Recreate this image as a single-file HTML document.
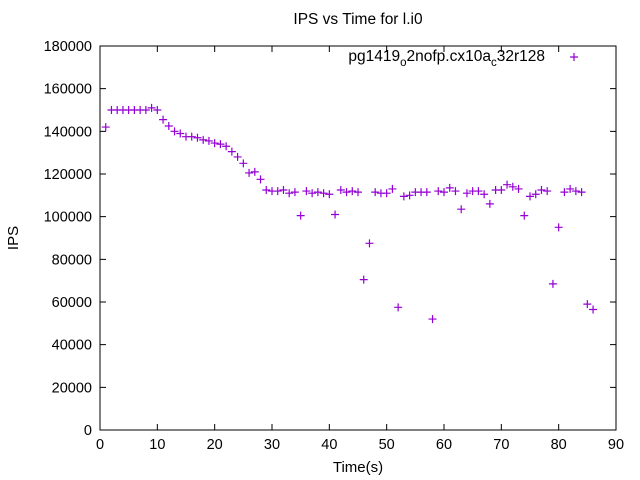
<!DOCTYPE html>
<html><head><meta charset="utf-8"><style>body{margin:0;background:#fff}svg{display:block;font-family:"Liberation Sans",sans-serif}</style></head>
<body>
<svg id="c" width="640" height="480">
<text x="358" y="24" font-size="15.5" text-anchor="middle">IPS vs Time for l.i0</text>
<text x="18" y="238" font-size="15" text-anchor="middle" transform="rotate(-90 18 238)">IPS</text>
<text x="358" y="472" font-size="15" text-anchor="middle">Time(s)</text>
<rect x="100" y="46" width="516" height="384" fill="none" stroke="#000"/>
<text x="545" y="61" font-size="15.5" text-anchor="end">pg1419<tspan font-size="11.5" dy="5">o</tspan><tspan dy="-5">2nofp.cx10a</tspan><tspan font-size="11.5" dy="5">c</tspan><tspan dy="-5">32r128</tspan></text>
<g id="ticks"></g><g id="pts"></g>
</svg>
<script>
const xs=[1,2,3,4,5,6,7,8,9,10,11,12,13,14,15,16,17,18,19,20,21,22,23,24,25,26,27,28,29,30,31,32,33,34,35,36,37,38,39,40,41,42,43,44,45,46,47,48,49,50,51,52,53,54,55,56,57,58,59,60,61,62,63,64,65,66,67,68,69,70,71,72,73,74,75,76,77,78,79,80,81,82,83,84,85,86];
const ips=[142000,150000,150000,150000,150000,150000,150000,150000,151000,150000,145500,142500,140000,139000,137500,137500,137000,136000,135500,134500,134000,133000,130500,128000,125000,120500,121000,117500,112500,112000,112000,112500,111000,111500,100500,112000,111000,111500,111000,110500,101000,112500,111500,112000,111500,70500,87500,111500,111000,111000,113000,57500,109500,110000,111500,111500,111500,52000,112000,111500,113500,112000,103500,111000,112000,112000,110500,106000,112500,112500,115000,114000,113000,100500,109500,110500,112500,112000,68500,95000,111500,113000,112000,111500,59000,56500];
const xTicks=[0,10,20,30,40,50,60,70,80,90];
const yTicks=[0,20000,40000,60000,80000,100000,120000,140000,160000,180000];
const NS='http://www.w3.org/2000/svg';
const X=v=>100+v*516/90, Y=v=>430-v*384/180000;
const tg=document.getElementById('ticks'), pg=document.getElementById('pts');
function mk(tag,a,p){const e=document.createElementNS(NS,tag);for(const k in a)e.setAttribute(k,a[k]);p.appendChild(e);return e;}
xTicks.forEach(v=>{const x=X(v);
 const l=mk('path',{d:`M${x} 430v-6M${x} 46v6`,stroke:'#000'},tg);
 
 
 const t=mk('text',{x:x,y:449,'font-size':14.5,'text-anchor':'middle'},tg);t.textContent=v;
 
 });
yTicks.forEach(v=>{const y=Y(v);
 const l=mk('path',{d:`M100 ${y}h6M616 ${y}h-6`,stroke:'#000'},tg);
 
 
 const t=mk('text',{x:92,y:y+5,'font-size':14.5,'text-anchor':'end'},tg);t.textContent=v;
 
 });
xs.forEach((v,i)=>{const x=X(v),y=Y(ips[i]);
 const p=mk('path',{d:`M${x-4} ${y}h8M${x} ${y-4}v8`,stroke:'#9400d3','stroke-width':1.2},pg);
 
 });
const lp=mk('path',{d:'M570 57h8M574 53v8',stroke:'#9400d3','stroke-width':1.2},pg);


</script>
</body></html>
